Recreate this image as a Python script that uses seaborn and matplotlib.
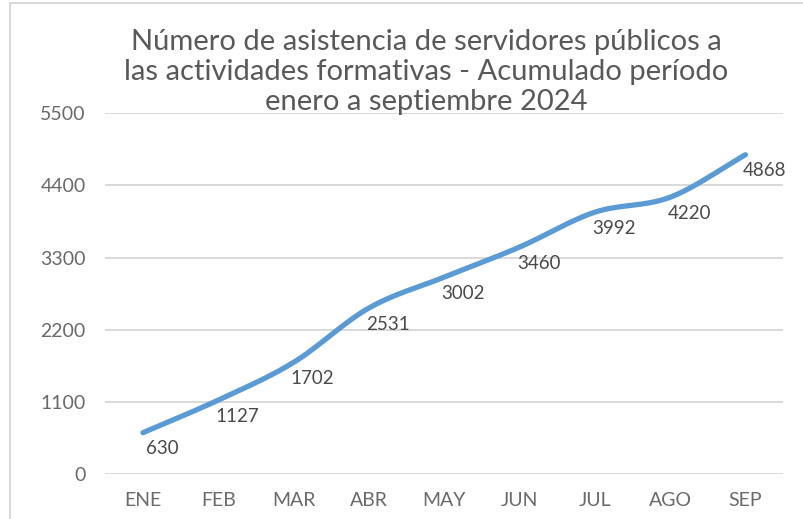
import numpy as np
import matplotlib
matplotlib.use("Agg")
import matplotlib.pyplot as plt
import seaborn as sns
from matplotlib.patches import Rectangle

# Data
meses = ["ENE", "FEB", "MAR", "ABR", "MAY", "JUN", "JUL", "AGO", "SEP"]
asistencia = [630, 1127, 1702, 2531, 3002, 3460, 3992, 4220, 4868]
y_ticks = [0, 1100, 2200, 3300, 4400, 5500]
titulo = ("Número de asistencia de servidores públicos a\n"
          "las actividades formativas - Acumulado período\n"
          "enero a septiembre 2024")

sns.set_theme(style="white")
plt.rcParams['font.family'] = ['Lato', 'DejaVu Sans']

gris = "#595959"
azul = "#5B9BD5"


def suavizar(x, y, n=30):
    # Excel-style smoothed line: Catmull-Rom through the data points
    x = np.asarray(x, float)
    y = np.asarray(y, float)
    px = np.concatenate([[2 * x[0] - x[1]], x, [2 * x[-1] - x[-2]]])
    py = np.concatenate([[2 * y[0] - y[1]], y, [2 * y[-1] - y[-2]]])
    xs, ys = [], []
    t = np.linspace(0, 1, n)
    for i in range(1, len(px) - 2):
        for p, out in ((px, xs), (py, ys)):
            p0, p1, p2, p3 = p[i - 1], p[i], p[i + 1], p[i + 2]
            out.extend(0.5 * ((2 * p1) + (-p0 + p2) * t
                              + (2 * p0 - 5 * p1 + 4 * p2 - p3) * t ** 2
                              + (-p0 + 3 * p1 - 3 * p2 + p3) * t ** 3))
    return np.array(xs), np.array(ys)


fig = plt.figure(figsize=(8.04, 5.19), dpi=100)
ax = fig.add_axes([0.131, 0.0867, 0.843, 0.695])

pos = np.arange(len(meses))
sx, sy = suavizar(pos, asistencia)
sns.lineplot(x=sx, y=sy, ax=ax, color=azul, linewidth=3.8, sort=False,
             solid_capstyle="round")

for xi, v in zip(pos, asistencia):
    ax.annotate(str(v), (xi, v), xytext=(19, -16), textcoords="offset pixels",
                ha="center", va="center", fontsize=13.5, color="#4a4a4a")

ax.set_xlim(-0.5, len(meses) - 0.5)
ax.set_ylim(0, 5500)
ax.set_yticks(y_ticks)
ax.set_xticks(pos)
ax.set_xticklabels(meses)
ax.tick_params(axis="both", labelsize=14, colors="#6a6a6a", length=0)
ax.tick_params(axis="x", pad=13)
ax.tick_params(axis="y", pad=14)
ax.yaxis.grid(True, color="#D9D9D9", linewidth=1.4)
ax.xaxis.grid(False)
for s in ax.spines.values():
    s.set_visible(False)

fig.text(0.53, 0.944, titulo, ha="center", va="top", fontsize=21,
         color=gris, linespacing=1.2)

# chart area border (cropped on the right and bottom)
fig.patches.append(Rectangle((10 / 804, -0.1), 1.2, 1 - 3 / 519 + 0.1,
                             transform=fig.transFigure, fill=False,
                             edgecolor="#D9D9D9", linewidth=1.5))

fig.savefig("out.png", dpi=100)
